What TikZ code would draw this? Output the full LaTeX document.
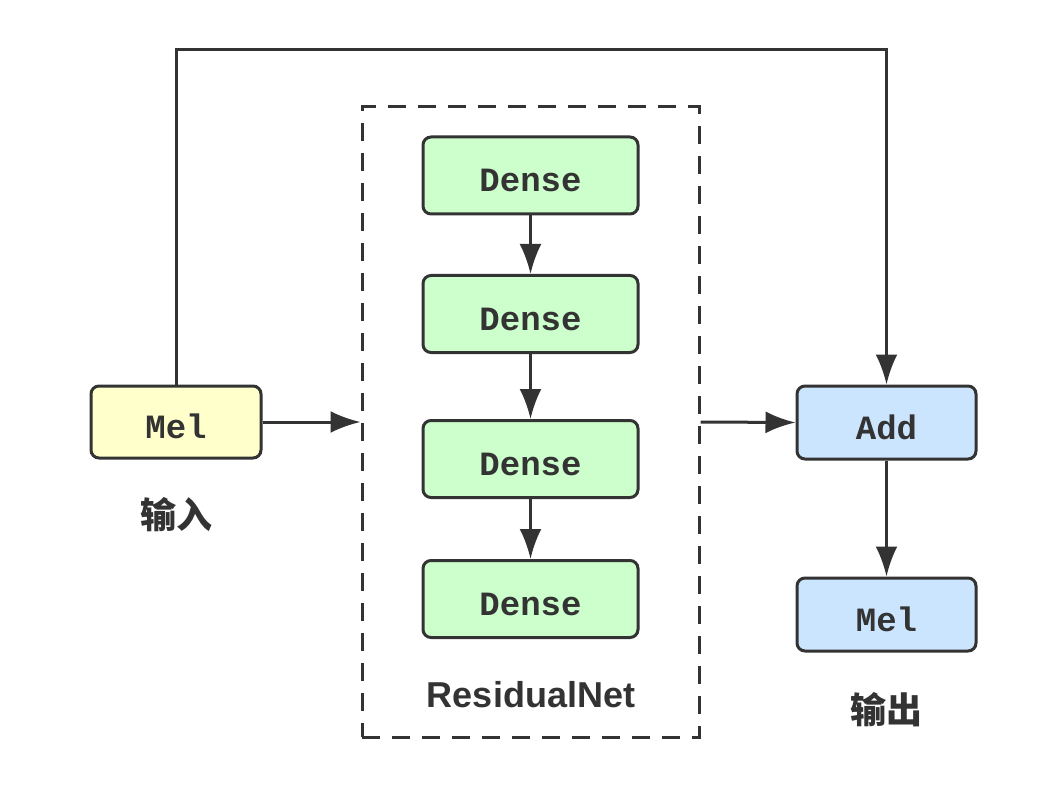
\documentclass[tikz,border=0pt]{standalone}
\usepackage{fontspec}
\setmonofont{Liberation Mono}
\setsansfont{Liberation Sans}
\newfontfamily\cjk{Noto Sans CJK SC}
\usetikzlibrary{arrows.meta}

\definecolor{edge}{HTML}{333333}
\definecolor{melfill}{HTML}{FFFFCC}
\definecolor{densefill}{HTML}{CCFFCC}
\definecolor{addfill}{HTML}{CCE5FF}

\tikzset{
  block/.style={rectangle,rounded corners=8pt,draw=edge,line width=3pt,text=edge,text height=33pt,text depth=0pt,font=\fontsize{34}{40}\selectfont\ttfamily\bfseries},
  caption/.style={text=edge,font=\fontsize{36}{42}\selectfont\bfseries},
  link/.style={draw=edge,line width=3pt,-{Latex[length=30pt,width=22pt]}},
}

\begin{document}
\begin{tikzpicture}[x=1pt,y=-1pt]
\useasboundingbox (0,0) rectangle (1062,799);
\node(melin) at (176,422) [block,fill=melfill,minimum width=170pt,minimum height=72pt]{Mel};
\node(resnet) at (530.5,422) [rectangle,draw=edge,line width=3pt,dash pattern=on 18pt off 12pt,minimum width=337pt,minimum height=630pt]{};
\node(dA) at (530.5,175.5) [block,fill=densefill,minimum width=215pt,minimum height=77pt]{Dense};
\node(dB) at (530.5,314) [block,fill=densefill,minimum width=215pt,minimum height=77pt]{Dense};
\node(dC) at (530.5,459) [block,fill=densefill,minimum width=215pt,minimum height=77pt]{Dense};
\node(dD) at (530.5,599) [block,fill=densefill,minimum width=215pt,minimum height=77pt]{Dense};
\node(add) at (886.5,422.5) [block,fill=addfill,minimum width=179pt,minimum height=73pt]{Add};
\node(melout) at (886.5,614.5) [block,fill=addfill,minimum width=179pt,minimum height=73pt]{Mel};
\node(inlabel) at (176,515) [caption,font=\cjk\fontsize{36}{42}\selectfont\bfseries]{输入};
\node(netlabel) at (531,695) [caption,font=\sffamily\fontsize{36}{42}\selectfont\bfseries]{ResidualNet};
\node(outlabel) at (886,710) [caption,font=\cjk\fontsize{36}{42}\selectfont\bfseries]{输出};
\coordinate(top) at (531,50);
\draw[link] (melin.north) |- (top) -| (add.north);
\draw[link] (melin.east) -- (resnet.west);
\draw[link] (resnet.east) -- (add.west);
\draw[link] (dA.south) -- (dB.north);
\draw[link] (dB.south) -- (dC.north);
\draw[link] (dC.south) -- (dD.north);
\draw[link] (add.south) -- (melout.north);
\end{tikzpicture}
\end{document}
